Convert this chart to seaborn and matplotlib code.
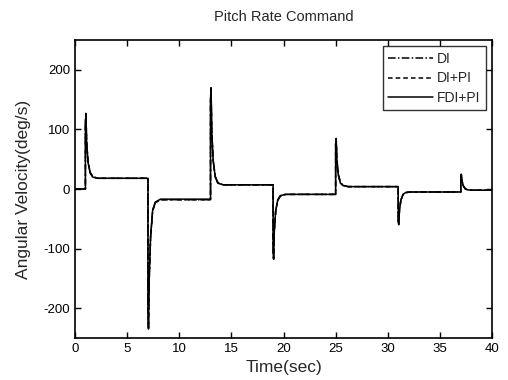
import matplotlib
matplotlib.use("Agg")
import matplotlib.pyplot as plt
import seaborn as sns
import pandas as pd

# time samples (sec): each command step is a jump then a decay
time = [0.0,
        1.0, 1.0, 1.05, 1.12, 1.25, 1.45, 1.7, 2.2,
        7.0, 7.0, 7.05, 7.12, 7.25, 7.45, 7.7, 8.2,
        13.0, 13.0, 13.05, 13.12, 13.25, 13.45, 13.7, 14.2,
        19.0, 19.0, 19.05, 19.12, 19.25, 19.45, 19.7, 20.2,
        25.0, 25.0, 25.05, 25.12, 25.25, 25.45, 25.7, 26.2,
        31.0, 31.0, 31.05, 31.12, 31.25, 31.45, 31.7, 32.2,
        37.0, 37.0, 37.05, 37.12, 37.25, 37.45, 37.7, 38.2,
        40.0]

fdi_pi = [0,
          0, 110, 125, 77, 45, 27, 20, 18,
          18, -200, -235, -150, -80, -35, -22, -17,
          -17, 150, 170, 97, 48, 20, 10, 7,
          7, -100, -118, -69, -36, -18, -11, -9,
          -9, 75, 85, 49, 24, 10, 6, 4,
          4, -52, -60, -35, -19, -9, -6, -5,
          -5, 20, 25, 13, 5, 0, -1.5, -2,
          -2]

di_pi = [0,
         0, 112, 127, 79, 46, 28, 20, 18,
         18, -202, -233, -152, -82, -36, -23, -18,
         -18, 151, 168, 98, 49, 21, 10, 7,
         7, -101, -117, -70, -37, -19, -11, -9,
         -9, 76, 84, 50, 25, 11, 6, 4,
         4, -53, -59, -36, -20, -10, -6, -5,
         -5, 21, 24, 14, 5, 0, -1.5, -2,
         -2]

di = [0,
      0, 108, 123, 78, 46, 28, 21, 18,
      18, -198, -232, -149, -81, -37, -23, -18,
      -18, 148, 167, 96, 49, 21, 11, 7,
      7, -99, -116, -68, -37, -19, -12, -9,
      -9, 74, 83, 48, 25, 11, 6, 4,
      4, -51, -58, -35, -19, -10, -6, -5,
      -5, 19, 24, 13, 5, 0, -1.5, -2,
      -2]

series_names = ["DI", "DI+PI", "FDI+PI"]
x_ticks = [0, 5, 10, 15, 20, 25, 30, 35, 40]
y_ticks = [-200, -100, 0, 100, 200]

df = pd.concat([
    pd.DataFrame({"t": time, "w": di, "ctrl": "DI"}),
    pd.DataFrame({"t": time, "w": di_pi, "ctrl": "DI+PI"}),
    pd.DataFrame({"t": time, "w": fdi_pi, "ctrl": "FDI+PI"}),
], ignore_index=True)

sns.set_theme(style="ticks")
plt.rcParams["font.family"] = ["Liberation Sans", "DejaVu Sans"]
plt.rcParams["axes.unicode_minus"] = False

fig = plt.figure(figsize=(5.08, 3.8), dpi=100)
ax = fig.add_axes([0.1476, 0.1105, 0.821, 0.7842])

sns.lineplot(data=df, x="t", y="w", style="ctrl", style_order=series_names,
             dashes={"DI": (5, 1.5, 1, 1.5), "DI+PI": (3, 2), "FDI+PI": ""},
             color="black", linewidth=1.1, estimator=None, sort=False, ax=ax)

ax.set_xlim(0, 40)
ax.set_ylim(-250, 250)
ax.set_xticks(x_ticks)
ax.set_yticks(y_ticks)
ax.tick_params(direction="in", top=True, right=True, length=4, width=1,
               labelsize=9.5, colors="black")
for sp in ax.spines.values():
    sp.set_linewidth(1.2)
    sp.set_color("black")

ax.set_title("Pitch Rate Command", fontsize=10.5, pad=14)
ax.set_xlabel("Time(sec)", fontsize=12.5, labelpad=4)
ax.set_ylabel("Angular Velocity(deg/s)", fontsize=12.5, labelpad=9)

leg = ax.legend(loc="upper right", fontsize=10, frameon=True, fancybox=False,
                handlelength=3.2, borderpad=0.4, labelspacing=0.4,
                borderaxespad=0.45, handletextpad=0.3)
leg.get_frame().set_edgecolor("black")
leg.get_frame().set_linewidth(1.0)

fig.savefig("out.png", dpi=100)
